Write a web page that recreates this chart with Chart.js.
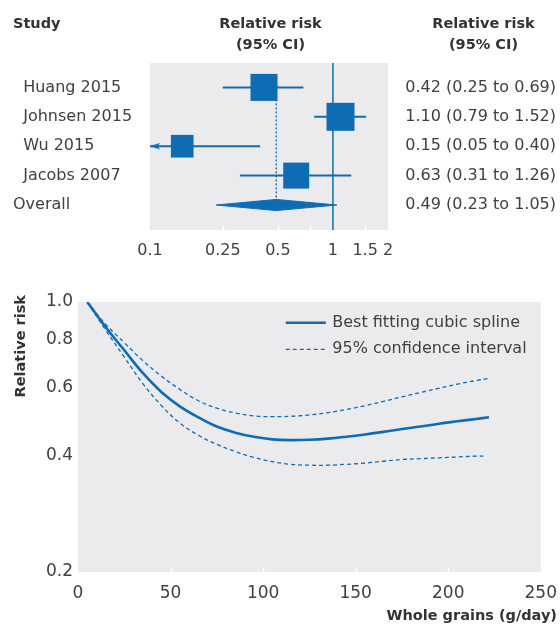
<!DOCTYPE html>
<html>
<head>
<meta charset="utf-8">
<script src="https://cdn.jsdelivr.net/npm/chart.js@4.4.0/dist/chart.umd.min.js"></script>
<style>
html,body{margin:0;padding:0;background:#fff;}
#wrap{position:relative;width:560px;height:626px;overflow:hidden;}
#forest{position:absolute;left:0;top:0;}
#spline{position:absolute;left:0;top:260px;}
</style>
</head>
<body>
<div id="wrap">
<canvas id="forest" width="560" height="260"></canvas>
<canvas id="spline" width="560" height="366"></canvas>
</div>
<script>
// ---------- data: forest plot ----------
const studies = ['Huang 2015', 'Johnsen 2015', 'Wu 2015', 'Jacobs 2007'];
const studyRR = [0.42, 1.10, 0.15, 0.63];
const studyLow = [0.25, 0.79, 0.05, 0.31];
const studyHigh = [0.69, 1.52, 0.40, 1.26];
const studyWeight = [27, 29, 19, 25];
const overallLabel = 'Overall';
const overallRR = 0.49;
const overallLow = 0.23;
const overallHigh = 1.05;
const forestTicks = [0.1, 0.25, 0.5, 0.75, 1, 1.5, 2];
const forestTickLabels = ['0.1', '0.25', '0.5', '', '1', '1.5', '2'];
const nullEffect = 1;

// ---------- data: dose-response spline ----------
const grainsX = [5, 15, 25, 35, 45, 55, 65, 75, 85, 95, 105, 115, 125, 135, 145, 155, 165, 175, 185, 195, 205, 215, 222];
const splineRR = [1.000, 0.860, 0.750, 0.655, 0.585, 0.537, 0.503, 0.476, 0.459, 0.448, 0.441, 0.439, 0.440, 0.443, 0.448, 0.454, 0.461, 0.469, 0.476, 0.484, 0.491, 0.498, 0.503];
const upperRR = [1.000, 0.875, 0.785, 0.705, 0.643, 0.594, 0.555, 0.531, 0.516, 0.507, 0.505, 0.506, 0.510, 0.517, 0.527, 0.539, 0.553, 0.568, 0.583, 0.598, 0.613, 0.626, 0.634];
const lowerX = [5, 15, 25, 35, 45, 55, 65, 75, 85, 95, 105, 115, 125, 135, 145, 155, 165, 175, 185, 195, 205, 215, 219];
const lowerRR = [1.000, 0.845, 0.720, 0.615, 0.540, 0.486, 0.452, 0.428, 0.410, 0.396, 0.386, 0.380, 0.378, 0.378, 0.380, 0.383, 0.387, 0.391, 0.393, 0.395, 0.397, 0.399, 0.399];
const splineXTicks = [0, 50, 100, 150, 200, 250];
const splineYTicks = [0.2, 0.4, 0.6, 0.8, 1.0];
const legendLabels = ['Best fitting cubic spline', '95% confidence interval'];

// ---------- styles ----------
const FONT = '"DejaVu Sans", sans-serif';
const BLUE = '#0e6cb5';
const BG = '#ebebee';
const TXT = '#404040';
Chart.defaults.font.family = FONT;
Chart.defaults.font.size = 16;
Chart.defaults.color = TXT;
Chart.defaults.animation = false;

const fmt = v => v.toFixed(2);
const rowLabels = studies.concat([overallLabel]);
const rowValues = studies.map((s, i) => `${fmt(studyRR[i])} (${fmt(studyLow[i])} to ${fmt(studyHigh[i])})`)
  .concat([`${fmt(overallRR)} (${fmt(overallLow)} to ${fmt(overallHigh)})`]);
const overallRow = studies.length + 1;
const yMinF = 0.17, yMaxF = overallRow + 0.85;
const rowTicks = rowLabels.map((_, i) => ({value: i + 1}));

// arrowhead image (tip at the image centre)
const arrow = document.createElement('canvas');
arrow.width = 24; arrow.height = 10;
(function(){
  const c = arrow.getContext('2d');
  c.fillStyle = BLUE;
  c.beginPath(); c.moveTo(12, 5); c.lineTo(22, 1.8); c.lineTo(20, 5); c.lineTo(22, 8.2); c.closePath(); c.fill();
})();

const bgPlugin = {
  id: 'bg',
  beforeDatasetsDraw(chart, args, opts) {
    const {ctx, chartArea: a} = chart;
    ctx.save();
    ctx.fillStyle = BG;
    ctx.fillRect(a.left, a.top, a.right - a.left, a.bottom - a.top);
    const xs = chart.scales.x;
    ctx.strokeStyle = '#ffffff';
    ctx.lineWidth = 1.5;
    (opts.ticks || []).forEach(v => {
      const px = Math.round(xs.getPixelForValue(v)) + 0.5;
      ctx.beginPath(); ctx.moveTo(px, a.bottom); ctx.lineTo(px, a.bottom - opts.len); ctx.stroke();
    });
    ctx.restore();
  }
};

const forestText = {
  id: 'forestText',
  afterDraw(chart) {
    const ctx = chart.ctx;
    ctx.save();
    ctx.fillStyle = '#333';
    ctx.font = 'bold 14.5px ' + FONT;
    ctx.textBaseline = 'middle';
    ctx.textAlign = 'left';
    ctx.fillText('Study', 13, 24);
    ctx.textAlign = 'center';
    ctx.fillText('Relative risk', 270.5, 24);
    ctx.fillText('(95% CI)', 270.5, 45.5);
    ctx.fillText('Relative risk', 483.5, 24);
    ctx.fillText('(95% CI)', 483.5, 45.5);
    ctx.restore();
  }
};

const forestDatasets = [];
forestDatasets.push({
  label: 'studies',
  data: studies.map((s, i) => ({x: studyRR[i], y: i + 1})),
  showLine: false,
  pointStyle: 'rect',
  pointRadius: studyWeight.map(w => 5.2 * Math.sqrt(w) / Math.SQRT2),
  pointBackgroundColor: BLUE,
  pointBorderWidth: 0,
  borderColor: BLUE
});
forestDatasets.push({
  label: 'arrows',
  data: studies.map((s, i) => studyLow[i] < forestTicks[0] ? {x: forestTicks[0], y: i + 1} : null).filter(Boolean),
  showLine: false,
  pointStyle: arrow,
  pointRadius: 6,
  clip: false
});
studies.forEach((s, i) => {
  forestDatasets.push({
    label: 'ci ' + s,
    data: [{x: studyLow[i], y: i + 1}, {x: studyHigh[i], y: i + 1}],
    borderColor: BLUE, borderWidth: 2, pointRadius: 0
  });
});
[-1, 1].forEach(sgn => {
  forestDatasets.push({
    label: 'diamond',
    data: [{x: overallLow, y: overallRow}, {x: overallRR, y: overallRow + sgn * 0.19}, {x: overallHigh, y: overallRow}],
    borderColor: BLUE, borderWidth: 1, pointRadius: 0, tension: 0,
    fill: {value: overallRow}, backgroundColor: BLUE
  });
});
forestDatasets.push({
  label: 'pooled',
  data: [{x: overallRR, y: 1}, {x: overallRR, y: overallRow}],
  borderColor: BLUE, borderWidth: 1.4, borderDash: [2, 2], pointRadius: 0
});
forestDatasets.push({
  label: 'null',
  data: [{x: nullEffect, y: yMinF}, {x: nullEffect, y: yMaxF}],
  borderColor: BLUE, borderWidth: 1.5, pointRadius: 0
});

new Chart(document.getElementById('forest'), {
  type: 'line',
  data: {datasets: forestDatasets},
  plugins: [bgPlugin, forestText],
  options: {
    responsive: false,
    devicePixelRatio: 1,
    layout: {padding: {top: 63, left: 13, right: 4, bottom: 0}},
    plugins: {
      legend: {display: false}, tooltip: {enabled: false}, title: {display: false},
      bg: {ticks: [0.25, 0.5, 0.75, 1.5], len: 5}
    },
    scales: {
      x: {
        type: 'logarithmic', min: forestTicks[0], max: forestTicks[forestTicks.length - 1],
        afterBuildTicks: s => { s.ticks = forestTicks.map(v => ({value: v})); },
        ticks: {callback: (v, i) => forestTickLabels[i], autoSkip: false, maxRotation: 0, padding: 3, color: TXT},
        grid: {display: false}, border: {display: false},
        afterFit: s => { s.height = 30; }
      },
      y: {
        type: 'linear', reverse: true, min: yMinF, max: yMaxF, position: 'left',
        afterBuildTicks: s => { s.ticks = rowTicks.map(t => ({value: t.value})); },
        ticks: {
          crossAlign: 'far', autoSkip: false, color: TXT,
          callback: v => { const i = Math.round(v) - 1; return i < studies.length ? '  ' + rowLabels[i] : rowLabels[i]; }
        },
        grid: {display: false}, border: {display: false},
        afterFit: s => { s.width = 137; }
      },
      y2: {
        type: 'linear', reverse: true, min: yMinF, max: yMaxF, position: 'right',
        afterBuildTicks: s => { s.ticks = rowTicks.map(t => ({value: t.value})); },
        ticks: {crossAlign: 'far', autoSkip: false, color: TXT, callback: v => rowValues[Math.round(v) - 1]},
        grid: {display: false}, border: {display: false},
        afterFit: s => { s.width = 168; }
      }
    }
  }
});

// ---------- spline chart ----------
const splineText = {
  id: 'splineText',
  afterDraw(chart) {
    const {ctx, chartArea: a} = chart;
    ctx.save();
    const ds = chart.data.datasets;
    [0, 1].forEach((di, k) => {
      const y = a.top + 20.7 + k * 26.6;
      ctx.strokeStyle = ds[di].borderColor;
      ctx.lineWidth = ds[di].borderWidth;
      ctx.setLineDash(ds[di].borderDash || []);
      ctx.beginPath(); ctx.moveTo(a.right - 255, y); ctx.lineTo(a.right - 215, y); ctx.stroke();
      ctx.setLineDash([]);
      ctx.fillStyle = TXT;
      ctx.font = '16px ' + FONT;
      ctx.textAlign = 'left'; ctx.textBaseline = 'middle';
      ctx.fillText(legendLabels[k], a.right - 208.5, y);
    });
    ctx.fillStyle = '#333';
    ctx.font = 'bold 14.5px ' + FONT;
    ctx.textAlign = 'right'; ctx.textBaseline = 'middle';
    ctx.fillText('Whole grains (g/day)', 557, 356);
    ctx.translate(21.5, 35);
    ctx.rotate(-Math.PI / 2);
    ctx.textAlign = 'right';
    ctx.fillText('Relative risk', 0, 0);
    ctx.restore();
  }
};

const lineStyle = {pointRadius: 0, tension: 0.4, cubicInterpolationMode: 'default'};
new Chart(document.getElementById('spline'), {
  type: 'line',
  data: {
    datasets: [
      Object.assign({label: legendLabels[0], data: grainsX.map((x, i) => ({x, y: splineRR[i]})), borderColor: BLUE, borderWidth: 2.6}, lineStyle),
      Object.assign({label: legendLabels[1], data: grainsX.map((x, i) => ({x, y: upperRR[i]})), borderColor: BLUE, borderWidth: 1.3, borderDash: [4, 3]}, lineStyle),
      Object.assign({label: legendLabels[1] + ' (lower)', data: lowerX.map((x, i) => ({x, y: lowerRR[i]})), borderColor: BLUE, borderWidth: 1.3, borderDash: [4, 3]}, lineStyle)
    ]
  },
  plugins: [bgPlugin, splineText],
  options: {
    responsive: false,
    devicePixelRatio: 1,
    layout: {padding: {top: 42, left: 0, right: 15, bottom: 0}},
    plugins: {
      legend: {display: false}, tooltip: {enabled: false},
      bg: {ticks: [50, 100, 150, 200], len: 5}
    },
    scales: {
      x: {
        type: 'linear', min: splineXTicks[0], max: splineXTicks[splineXTicks.length - 1],
        afterBuildTicks: s => { s.ticks = splineXTicks.map(v => ({value: v})); },
        ticks: {autoSkip: false, maxRotation: 0, padding: 3, color: TXT, font: {size: 17}},
        grid: {display: false}, border: {display: false},
        afterFit: s => { s.height = 54; }
      },
      y: {
        type: 'logarithmic', min: splineYTicks[0], max: splineYTicks[splineYTicks.length - 1],
        afterBuildTicks: s => { s.ticks = splineYTicks.map(v => ({value: v})); },
        ticks: {callback: v => Number(v).toFixed(1), autoSkip: false, padding: 5, color: TXT, font: {size: 17}},
        grid: {
          color: c => (c.tick && c.tick.value > splineYTicks[0] + 1e-9 && c.tick.value < splineYTicks[splineYTicks.length - 1] - 1e-9) ? '#ffffff' : 'rgba(0,0,0,0)',
          lineWidth: 2, drawTicks: false
        },
        border: {display: false},
        afterFit: s => { s.width = 78; }
      }
    }
  }
});
</script>
</body>
</html>
